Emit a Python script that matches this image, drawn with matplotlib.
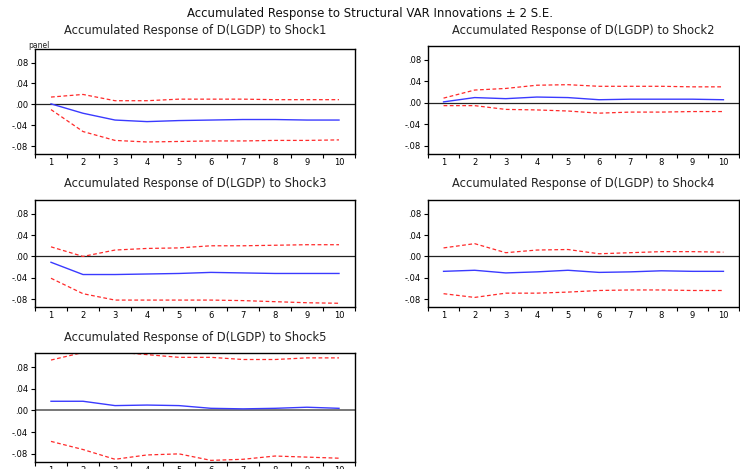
import matplotlib
matplotlib.use("Agg")
import matplotlib.pyplot as plt
from matplotlib.ticker import FixedLocator, NullFormatter, FuncFormatter

periods = [1, 2, 3, 4, 5, 6, 7, 8, 9, 10]

resp1 = [0.001, -0.017, -0.030, -0.033, -0.031, -0.030, -0.029, -0.029, -0.030, -0.030]
up1 = [0.014, 0.019, 0.007, 0.007, 0.010, 0.010, 0.010, 0.009, 0.009, 0.009]
lo1 = [-0.010, -0.052, -0.069, -0.072, -0.071, -0.070, -0.070, -0.069, -0.069, -0.068]

resp2 = [0.002, 0.010, 0.008, 0.011, 0.010, 0.006, 0.007, 0.007, 0.007, 0.006]
up2 = [0.009, 0.024, 0.027, 0.033, 0.034, 0.031, 0.031, 0.031, 0.030, 0.030]
lo2 = [-0.005, -0.005, -0.012, -0.013, -0.015, -0.019, -0.017, -0.017, -0.016, -0.016]

resp3 = [-0.011, -0.034, -0.034, -0.033, -0.032, -0.030, -0.031, -0.032, -0.032, -0.032]
up3 = [0.018, 0.000, 0.012, 0.015, 0.016, 0.020, 0.020, 0.021, 0.022, 0.022]
lo3 = [-0.041, -0.070, -0.082, -0.082, -0.082, -0.082, -0.083, -0.085, -0.087, -0.088]

resp4 = [-0.028, -0.026, -0.031, -0.029, -0.026, -0.030, -0.029, -0.027, -0.028, -0.028]
up4 = [0.016, 0.024, 0.007, 0.012, 0.013, 0.005, 0.007, 0.009, 0.009, 0.008]
lo4 = [-0.070, -0.077, -0.069, -0.069, -0.067, -0.064, -0.063, -0.063, -0.064, -0.064]

resp5 = [0.017, 0.017, 0.009, 0.010, 0.009, 0.004, 0.003, 0.004, 0.006, 0.004]
up5 = [0.093, 0.107, 0.108, 0.103, 0.098, 0.098, 0.094, 0.094, 0.097, 0.097]
lo5 = [-0.057, -0.072, -0.090, -0.082, -0.080, -0.092, -0.090, -0.084, -0.086, -0.088]

shocks = ["Shock1", "Shock2", "Shock3", "Shock4", "Shock5"]
yticks = [-0.08, -0.04, 0.00, 0.04, 0.08]

W, H = 740, 469
plt.rcParams['font.family'] = ['DejaVu Sans']
fig = plt.figure(figsize=(W / 100, H / 100), dpi=100)

def rect(l, t, r, b):
    return [l / W, 1 - b / H, (r - l) / W, (b - t) / H]

boxes = [rect(35, 49, 355, 154), rect(428, 46, 739, 154),
         rect(35, 200, 355, 307), rect(428, 200, 739, 307),
         rect(35, 353, 355, 462)]
title_y = [30, 30, 183, 183, 337]
data = [(resp1, up1, lo1), (resp2, up2, lo2), (resp3, up3, lo3),
        (resp4, up4, lo4), (resp5, up5, lo5)]

def fmt(v, pos):
    s = "%.2f" % v
    if s.startswith("-0"):
        return "-" + s[2:]
    if s.startswith("0"):
        return s[1:]
    return s

for i, (box, (r, u, l)) in enumerate(zip(boxes, data)):
    ax = fig.add_axes(box)
    ax.plot(periods, r, color="#3a3aff", lw=1.0)
    ax.plot(periods, u, color="#ff2a2a", lw=0.9, ls=(0, (3, 2)))
    ax.plot(periods, l, color="#ff2a2a", lw=0.9, ls=(0, (3, 2)))
    ax.axhline(0, color="#222222" if i < 4 else "#777777", lw=0.9 if i < 4 else 1.4, zorder=0)
    ax.set_xlim(0.5, 10.5)
    ax.set_ylim(-0.095, 0.106)
    ax.set_yticks(yticks)
    ax.yaxis.set_major_formatter(FuncFormatter(fmt))
    ax.xaxis.set_major_locator(FixedLocator([x + 0.5 for x in [0] + periods]))
    ax.xaxis.set_major_formatter(NullFormatter())
    ax.xaxis.set_minor_locator(FixedLocator(periods))
    ax.xaxis.set_minor_formatter(FuncFormatter(lambda v, p: "%d" % v))
    ax.tick_params(axis="x", which="major", length=3, width=0.8, direction="out")
    ax.tick_params(axis="x", which="minor", length=0, labelsize=6, pad=3)
    ax.tick_params(axis="y", length=3, width=0.8, labelsize=6, pad=2)
    for s in ax.spines.values():
        s.set_linewidth(1.0)
        s.set_color("black")
    cx = box[0] + box[2] / 2
    fig.text(cx, 1 - title_y[i] / H, "Accumulated Response of D(LGDP) to " + shocks[i],
             ha="center", va="center", fontsize=8.3, color="#222222")

fig.text(0.5, 1 - 14 / H, "Accumulated Response to Structural VAR Innovations \u00b1 2 S.E.",
         ha="center", va="center", fontsize=8.5, color="#111111")
fig.text(28 / W, 1 - 46 / H, "panel", fontsize=5.5, ha="left", va="center", color="#222222")

fig.savefig("out.png", dpi=100)
